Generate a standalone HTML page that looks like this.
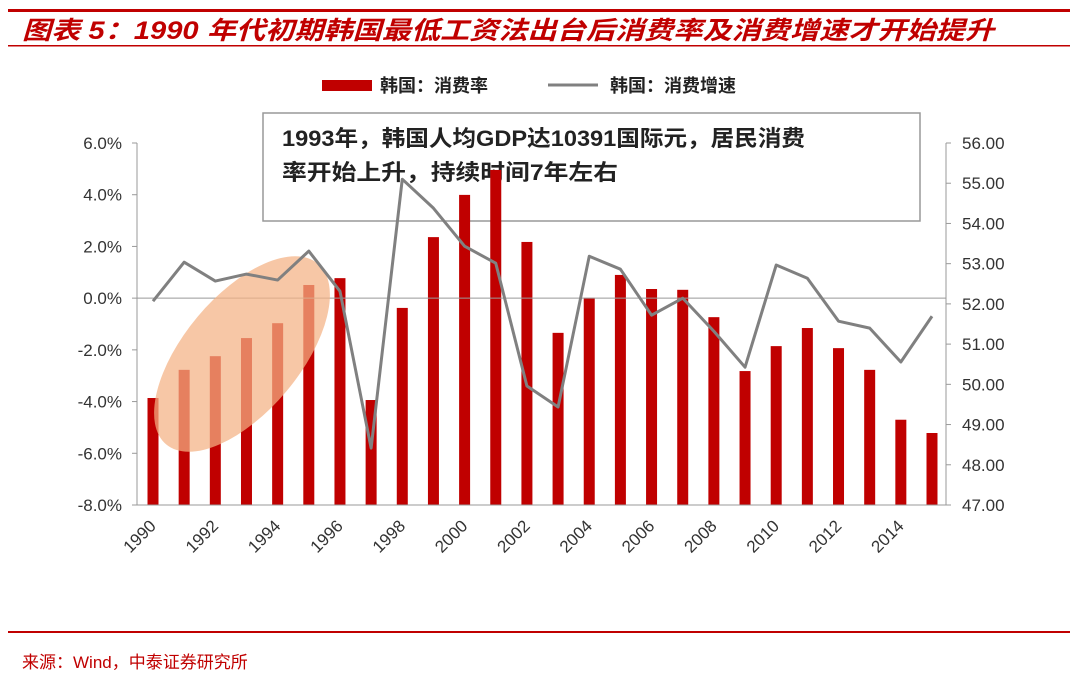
<!DOCTYPE html>
<html><head><meta charset="utf-8">
<style>
body{margin:0;background:#fff;}
#wrap{position:relative;width:1080px;height:682px;overflow:hidden;font-family:"Liberation Sans","Noto Sans CJK SC",sans-serif;}
</style></head>
<body><div id="wrap">
<svg id="c" width="1080" height="682" xmlns="http://www.w3.org/2000/svg">
<rect x="8" y="9" width="1062" height="3" fill="#c00000"/>
<text x="22" y="39" font-size="25" font-style="italic" font-weight="bold" fill="#c00000" textLength="972" lengthAdjust="spacingAndGlyphs" font-family="Liberation Sans,Noto Sans CJK SC,sans-serif">图表 5：1990 年代初期韩国最低工资法出台后消费率及消费增速才开始提升</text>
<rect x="8" y="45" width="1062" height="1.5" fill="#c00000"/>
<rect x="8" y="631" width="1062" height="2" fill="#c00000"/>
<text x="22" y="668" font-size="17" fill="#c00000">来源：Wind，中泰证券研究所</text>
<rect x="263" y="113" width="657" height="108" fill="#fff" stroke="#999" stroke-width="1.5"/>
<text x="282" y="146" font-size="22" font-weight="bold" fill="#222" textLength="523" lengthAdjust="spacingAndGlyphs">1993年，韩国人均GDP达10391国际元，居民消费</text>
<text x="282" y="180" font-size="22" font-weight="bold" fill="#222" textLength="336" lengthAdjust="spacingAndGlyphs">率开始上升，持续时间7年左右</text>
<g id="plot"></g>
</svg>
<script>
const years=[1990,1991,1992,1993,1994,1995,1996,1997,1998,1999,2000,2001,2002,2003,2004,2005,2006,2007,2008,2009,2010,2011,2012,2013,2014,2015];
const consumptionRate=[49.66,50.36,50.70,51.15,51.52,52.47,52.64,49.61,51.90,53.66,54.71,55.33,53.54,51.28,52.15,52.72,52.37,52.35,51.67,50.33,50.95,51.40,50.90,50.36,49.12,48.79];
const consumptionGrowth=[-0.12,1.39,0.66,0.93,0.70,1.82,0.27,-5.80,4.60,3.48,2.01,1.35,-3.40,-4.21,1.62,1.12,-0.66,0.0,-1.28,-2.67,1.28,0.77,-0.89,-1.16,-2.47,-0.70];
const leftTicks=[6,4,2,0,-2,-4,-6,-8];
const rightTicks=[56,55,54,53,52,51,50,49,48,47];
const xLabels=[1990,1992,1994,1996,1998,2000,2002,2004,2006,2008,2010,2012,2014];

const yTop=143,yBot=505,x0=153,dx=31.16;
const yL=v=>yTop+(6-v)/14*(yBot-yTop);
const yR=v=>yTop+(56-v)/9*(yBot-yTop);
const xp=i=>x0+i*dx;
const NS="http://www.w3.org/2000/svg";
const g=document.getElementById('plot');
function el(t,a,txt){const e=document.createElementNS(NS,t);for(const k in a)e.setAttribute(k,a[k]);if(txt!==undefined)e.textContent=txt;g.appendChild(e);return e;}

let e;
e=el('line',{x1:137,y1:yTop,x2:137,y2:yBot,stroke:'#999','stroke-width':1});


e=el('line',{x1:946,y1:yTop,x2:946,y2:yBot,stroke:'#999','stroke-width':1});


leftTicks.forEach(v=>{
 e=el('text',{x:122,y:yL(v)+6,'text-anchor':'end','font-size':17,fill:'#333'},v.toFixed(1)+'%');
 
 
 e=el('line',{x1:132,y1:yL(v),x2:137,y2:yL(v),stroke:'#999'});
 
 
});
rightTicks.forEach(v=>{
 e=el('text',{x:962,y:yR(v)+6,'font-size':17,fill:'#333'},v.toFixed(2));
 
 
 e=el('line',{x1:946,y1:yR(v),x2:951,y2:yR(v),stroke:'#999'});
 
 
});
years.forEach((y,i)=>{
 const base=yR(47),t=yR(consumptionRate[i]);
 e=el('rect',{x:xp(i)-5.5,y:t,width:11,height:base-t,fill:'#c00000'});
 
 
});
e=el('line',{x1:137,y1:yBot,x2:946,y2:yBot,stroke:'#999','stroke-width':1});


e=el('line',{x1:137,y1:yL(0),x2:946,y2:yL(0),stroke:'#999','stroke-width':1});


xLabels.forEach(yr=>{
 const i=years.indexOf(yr),x=xp(i)+4,y=yBot+22;
 e=el('text',{x:x,y:y,'text-anchor':'end','font-size':17,fill:'#333',transform:`rotate(-45 ${x} ${y})`},yr);
 
 
});
e=el('ellipse',{cx:242,cy:354,rx:118,ry:58,fill:'#f4b183','fill-opacity':0.72,transform:'rotate(-50 242 354)'});


e=el('polyline',{points:consumptionGrowth.map((v,i)=>xp(i)+','+yL(v)).join(' '),fill:'none',stroke:'#808080','stroke-width':3,'stroke-linejoin':'round'});


e=el('rect',{x:322,y:80,width:50,height:11,fill:'#c00000'});


e=el('text',{x:380,y:92,'font-size':18,'font-weight':'bold',fill:'#222'},'韩国：消费率');


e=el('line',{x1:548,y1:85,x2:598,y2:85,stroke:'#808080','stroke-width':3});


e=el('text',{x:610,y:92,'font-size':18,'font-weight':'bold',fill:'#222'},'韩国：消费增速');


</script>
</div></body></html>
